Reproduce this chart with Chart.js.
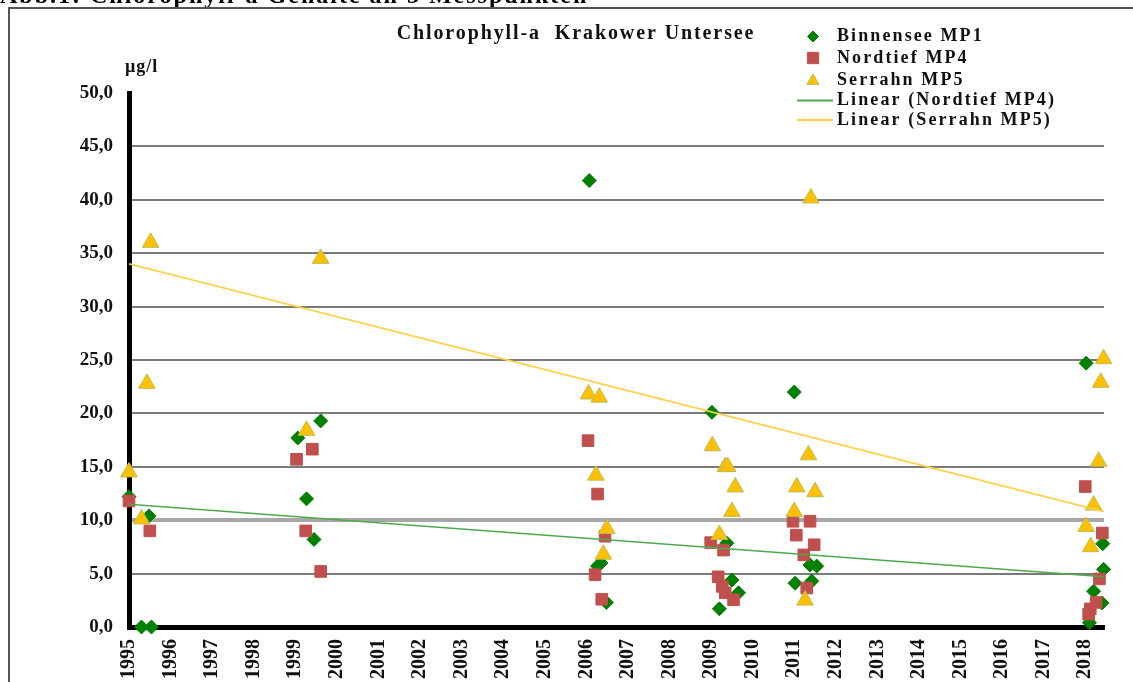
<!DOCTYPE html>
<html>
<head>
<meta charset="utf-8">
<script src="https://cdn.jsdelivr.net/npm/chart.js@4/dist/chart.umd.min.js"></script>
<style>
  html, body { margin: 0; padding: 0; background: #fff; }
  #wrap { position: relative; width: 1133px; height: 682px; overflow: hidden; }
</style>
</head>
<body>
<div id="wrap"><canvas id="c" width="1133" height="682"></canvas></div>
<script>
// ---- data ----
const headerText = "Abb.1: Chlorophyll-a Gehalte an 3 Messpunkten";
const chartTitle = "Chlorophyll-a  Krakower Untersee";
const unitLabel = "µg/l";
const xTickLabels = ["1995","1996","1997","1998","1999","2000","2001","2002","2003","2004","2005","2006",
                     "2007","2008","2009","2010","2011","2012","2013","2014","2015","2016","2017","2018"];
const seriesNames = ["Binnensee MP1", "Nordtief MP4", "Serrahn MP5", "Linear (Nordtief MP4)", "Linear (Serrahn MP5)"];

const binnenseeX = [1995.0, 1995.30, 1995.54, 1995.48, 1999.06, 1999.61, 1999.27, 1999.45,
                    2006.07, 2006.27, 2006.35, 2006.48, 2009.02, 2009.38, 2009.50, 2009.66, 2009.20,
                    2011.00, 2011.38, 2011.54, 2011.02, 2011.42, 2018.02, 2018.42, 2018.44, 2018.20, 2018.40, 2018.10];
const binnenseeY = [12.2, 0.0, 0.0, 10.4, 17.7, 19.3, 12.0, 8.2,
                    41.8, 5.7, 6.0, 2.3, 20.1, 7.85, 4.4, 3.2, 1.7,
                    22.0, 5.8, 5.7, 4.1, 4.3, 24.7, 7.8, 5.4, 3.35, 2.25, 0.4];

const nordtiefX = [1995.0, 1995.50, 1999.03, 1999.41, 1999.25, 1999.61,
                   2006.04, 2006.27, 2006.45, 2006.21, 2006.37,
                   2008.99, 2009.30, 2009.17, 2009.27, 2009.34, 2009.54,
                   2010.97, 2011.38, 2011.05, 2011.48, 2011.23, 2011.30,
                   2018.00, 2018.41, 2018.34, 2018.26, 2018.12, 2018.08];
const nordtiefY = [11.8, 9.0, 15.7, 16.65, 9.0, 5.2,
                   17.45, 12.45, 8.5, 4.9, 2.6,
                   7.9, 7.2, 4.7, 3.8, 3.2, 2.55,
                   9.9, 9.9, 8.6, 7.7, 6.75, 3.65,
                   13.15, 8.8, 4.5, 2.3, 1.7, 1.2];

const serrahnX = [1995.52, 1995.43, 1995.0, 1995.30, 1999.61, 1999.27,
                  2006.05, 2006.31, 2006.23, 2006.49, 2006.41,
                  2009.03, 2009.34, 2009.40, 2009.58, 2009.50, 2009.20,
                  2011.40, 2011.34, 2011.06, 2011.50, 2011.00, 2011.26,
                  2018.44, 2018.37, 2018.32, 2018.20, 2018.02, 2018.13];
const serrahnY = [36.0, 22.8, 14.5, 10.1, 34.5, 18.4,
                  21.8, 21.5, 14.2, 9.2, 6.8,
                  16.95, 15.0, 15.0, 13.1, 10.8, 8.65,
                  40.15, 16.1, 13.1, 12.65, 10.8, 2.5,
                  25.1, 22.9, 15.5, 11.4, 9.4, 7.5];

const trendNordtiefX = [1995.0, 2018.45];
const trendNordtiefY = [11.5, 4.7];
const trendSerrahnX = [1995.0, 2018.45];
const trendSerrahnY = [34.0, 10.8];

const yMin = 0, yMax = 50, yStep = 5;
const xMin = 1995, xMax = 2018.45;

// ---- build ----
const zip = (xs, ys) => xs.map((x, i) => ({ x: x, y: ys[i] }));
const SERIF = "'Liberation Serif', 'Times New Roman', serif";

const colGreen = '#008000', colRed = '#C0504D', colYellow = '#FFC000', colTriBorder = '#b9bd55';
const colTrendGreen = '#4ea94e', colTrendYellow = '#ffd04a';

const decorPlugin = {
  id: 'decor',
  beforeDraw(chart) {
    const ctx = chart.ctx;
    ctx.save();
    ctx.fillStyle = '#fff';
    ctx.fillRect(0, 0, chart.width, chart.height);
    // cut-off caption above frame
    ctx.fillStyle = '#000';
    ctx.font = "bold 24px " + SERIF;
    ctx.letterSpacing = '2px';
    ctx.textBaseline = 'alphabetic';
    ctx.textAlign = 'left';
    ctx.fillText(headerText, 0, 3);
    // frame
    ctx.strokeStyle = '#555';
    ctx.lineWidth = 2;
    ctx.beginPath();
    ctx.moveTo(9, chart.height + 2);
    ctx.lineTo(9, 8);
    ctx.lineTo(chart.width + 2, 8);
    ctx.stroke();
    ctx.restore();
  },
  afterDraw(chart) {
    const ctx = chart.ctx;
    ctx.save();
    ctx.fillStyle = '#111';
    ctx.textBaseline = 'middle';
    // title
    ctx.font = "bold 20px " + SERIF;
    ctx.letterSpacing = '1.9px';
    ctx.textAlign = 'center';
    ctx.fillText(chartTitle, 576, 34);
    // unit
    ctx.font = "bold 18px " + SERIF;
    ctx.letterSpacing = '1px';
    ctx.textAlign = 'left';
    ctx.fillText(unitLabel, 125, 67);
    // legend
    const rows = [36.5, 58, 80, 100.5, 120];
    const mx = 813, tx = 837;
    const ds = chart.data.datasets;
    const legendRadius = [5.5, 8, 7];
    for (let i = 0; i < 3; i++) {
      ctx.fillStyle = ds[i].backgroundColor;
      ctx.strokeStyle = ds[i].borderColor;
      ctx.lineWidth = 1;
      Chart.helpers.drawPoint(ctx, { pointStyle: ds[i].pointStyle, radius: legendRadius[i], rotation: 0, borderWidth: 1 }, mx, rows[i] + (i === 2 ? 1 : 0));
    }
    ctx.lineWidth = 2;
    ctx.strokeStyle = colTrendGreen;
    ctx.beginPath(); ctx.moveTo(797, rows[3]); ctx.lineTo(833, rows[3]); ctx.stroke();
    ctx.strokeStyle = colTrendYellow;
    ctx.beginPath(); ctx.moveTo(797, rows[4]); ctx.lineTo(833, rows[4]); ctx.stroke();
    ctx.fillStyle = '#111';
    ctx.font = "bold 18px " + SERIF;
    ctx.letterSpacing = '2.1px';
    ctx.textAlign = 'left';
    for (let i = 0; i < 5; i++) ctx.fillText(seriesNames[i], tx, rows[i]);
    ctx.restore();
  }
};

new Chart(document.getElementById('c'), {
  type: 'scatter',
  data: {
    datasets: [
      { label: seriesNames[0], data: zip(binnenseeX, binnenseeY), pointStyle: 'rectRot', pointRadius: 7,
        backgroundColor: colGreen, borderColor: colGreen, borderWidth: 1, order: 5, clip: false },
      { label: seriesNames[1], data: zip(nordtiefX, nordtiefY), pointStyle: 'rect', pointRadius: 8.2,
        backgroundColor: colRed, borderColor: colRed, borderWidth: 1, order: 4, clip: false },
      { label: seriesNames[2], data: zip(serrahnX, serrahnY), pointStyle: 'triangle', pointRadius: 9.6,
        backgroundColor: colYellow, borderColor: colTriBorder, borderWidth: 1, order: 3, clip: false },
      { type: 'line', label: seriesNames[3], data: zip(trendNordtiefX, trendNordtiefY), borderColor: colTrendGreen,
        borderWidth: 1.6, pointRadius: 0, fill: false, order: 2 },
      { type: 'line', label: seriesNames[4], data: zip(trendSerrahnX, trendSerrahnY), borderColor: colTrendYellow,
        borderWidth: 1.6, pointRadius: 0, fill: false, order: 1 }
    ]
  },
  options: {
    responsive: false,
    animation: false,
    devicePixelRatio: 1,
    layout: { padding: { top: 93, right: 29, left: 0, bottom: 0 } },
    plugins: { legend: { display: false }, title: { display: false }, tooltip: { enabled: false } },
    scales: {
      x: {
        type: 'linear', position: 'bottom', min: xMin, max: xMax,
        afterFit: (s) => { s.height = 55; },
        grid: { display: false, drawTicks: false },
        border: { display: true, color: '#000', width: 5 },
        ticks: {
          stepSize: 1, includeBounds: false, autoSkip: false, minRotation: 90, maxRotation: 90, padding: 12,
          color: '#111', font: { family: SERIF, weight: 'bold', size: 20 },
          callback: (v, i) => xTickLabels[i]
        }
      },
      y: {
        type: 'linear', min: yMin, max: yMax,
        afterFit: (s) => { s.width = 129; },
        grid: {
          drawTicks: false,
          color: (c) => (c.tick.value === 10 ? '#a8a8a8' : (c.tick.value === 50 || c.tick.value === 0 ? 'rgba(0,0,0,0)' : '#7a7a7a')),
          lineWidth: (c) => (c.tick.value === 10 ? 4 : 2)
        },
        border: { display: true, color: '#000', width: 5 },
        ticks: {
          stepSize: yStep, padding: 16, color: '#111',
          font: { family: SERIF, weight: 'bold', size: 19 },
          callback: (v) => Number(v).toFixed(1).replace('.', ',')
        }
      }
    }
  },
  plugins: [decorPlugin]
});
</script>
</body>
</html>
